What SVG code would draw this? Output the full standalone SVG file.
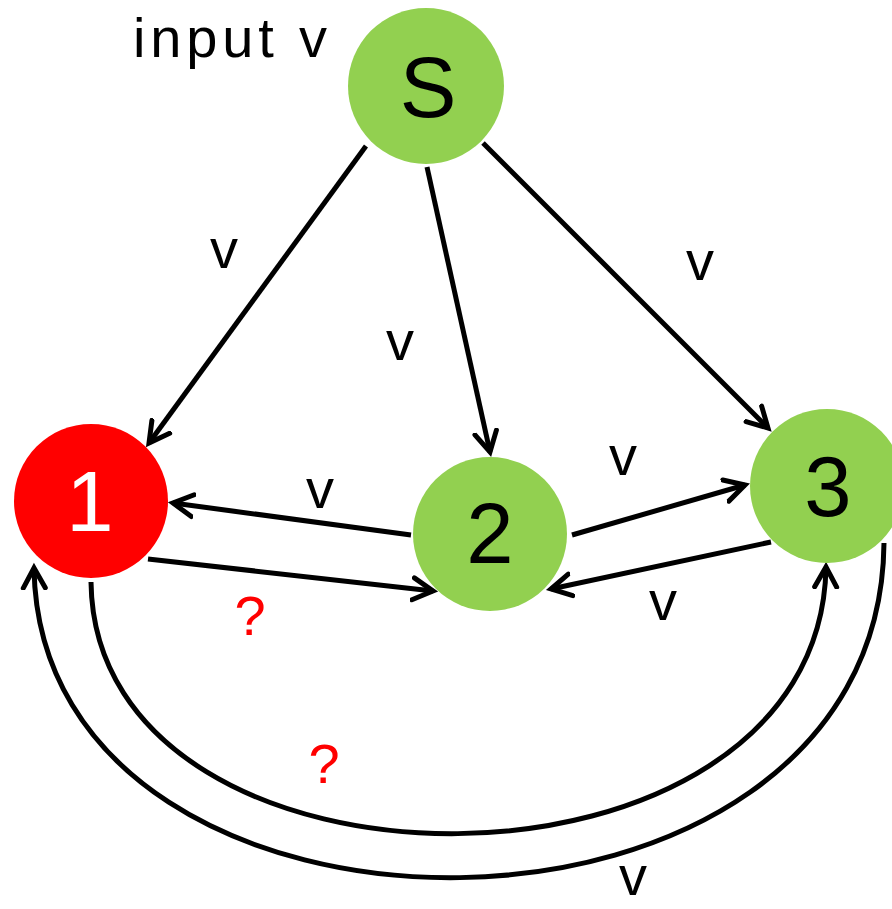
<svg xmlns="http://www.w3.org/2000/svg" width="892" height="909" viewBox="0 0 892 909">
<style>
.edge{fill:none;stroke:#000;stroke-width:5;stroke-linecap:butt}
.lbl{font-family:"Liberation Sans","DejaVu Sans",sans-serif;font-size:56px;fill:#000}
.q{font-family:"Liberation Sans","DejaVu Sans",sans-serif;font-size:56px;fill:#FF0000}
.nl{font-family:"Liberation Sans","DejaVu Sans",sans-serif;font-size:85px;text-anchor:middle}
.green{fill:#92D050}
.red{fill:#FF0000}
</style>
<defs>
<marker id="arr" markerUnits="userSpaceOnUse" markerWidth="30" markerHeight="30" refX="22" refY="13" orient="auto" viewBox="0 0 30 26">
<path d="M2,2 L22,13 L2,24" fill="none" stroke="#000" stroke-width="5" stroke-linecap="round" stroke-linejoin="miter"/>
</marker>
</defs>
<g id="connectors">
<line class="edge" x1="366" y1="146" x2="149" y2="443" marker-end="url(#arr)"/>
<line class="edge" x1="427" y1="167" x2="490" y2="452" marker-end="url(#arr)"/>
<line class="edge" x1="483" y1="143" x2="768" y2="428" marker-end="url(#arr)"/>
<line class="edge" x1="411" y1="535" x2="173" y2="503" marker-end="url(#arr)"/>
<line class="edge" x1="148" y1="559" x2="433" y2="591" marker-end="url(#arr)"/>
<line class="edge" x1="572" y1="535" x2="745" y2="485" marker-end="url(#arr)"/>
<line class="edge" x1="771" y1="542" x2="551" y2="589" marker-end="url(#arr)"/>
<path class="edge" d="M91,582 C95,920 820,920 826,567" marker-end="url(#arr)"/>
<path class="edge" d="M884,543 C880,985 40,985 34,568" marker-end="url(#arr)"/>
</g>
<g id="labels">
<text class="lbl" x="133" y="57" textLength="194" lengthAdjust="spacing">input v</text>
<text class="lbl" x="224" y="268" text-anchor="middle">v</text>
<text class="lbl" x="400" y="360" text-anchor="middle">v</text>
<text class="lbl" x="700" y="280" text-anchor="middle">v</text>
<text class="lbl" x="320" y="508" text-anchor="middle">v</text>
<text class="lbl" x="623" y="475" text-anchor="middle">v</text>
<text class="lbl" x="663" y="620" text-anchor="middle">v</text>
<text class="lbl" x="633" y="895" text-anchor="middle">v</text>
<text class="q" x="250" y="635" text-anchor="middle">?</text>
<text class="q" x="324" y="783" text-anchor="middle">?</text>
</g>
<g id="node-S">
<circle class="green" cx="426" cy="86" r="78"/>
<text class="nl" x="428" y="117" fill="#000">S</text>
</g>
<g id="node-1">
<circle class="red" cx="91" cy="501" r="77"/>
<text class="nl" x="90" y="531" fill="#FFF">1</text>
</g>
<g id="node-2">
<circle class="green" cx="490" cy="534" r="77"/>
<text class="nl" x="490" y="563" fill="#000">2</text>
</g>
<g id="node-3">
<circle class="green" cx="827" cy="486" r="77"/>
<text class="nl" x="828" y="516" fill="#000">3</text>
</g>
</svg>
